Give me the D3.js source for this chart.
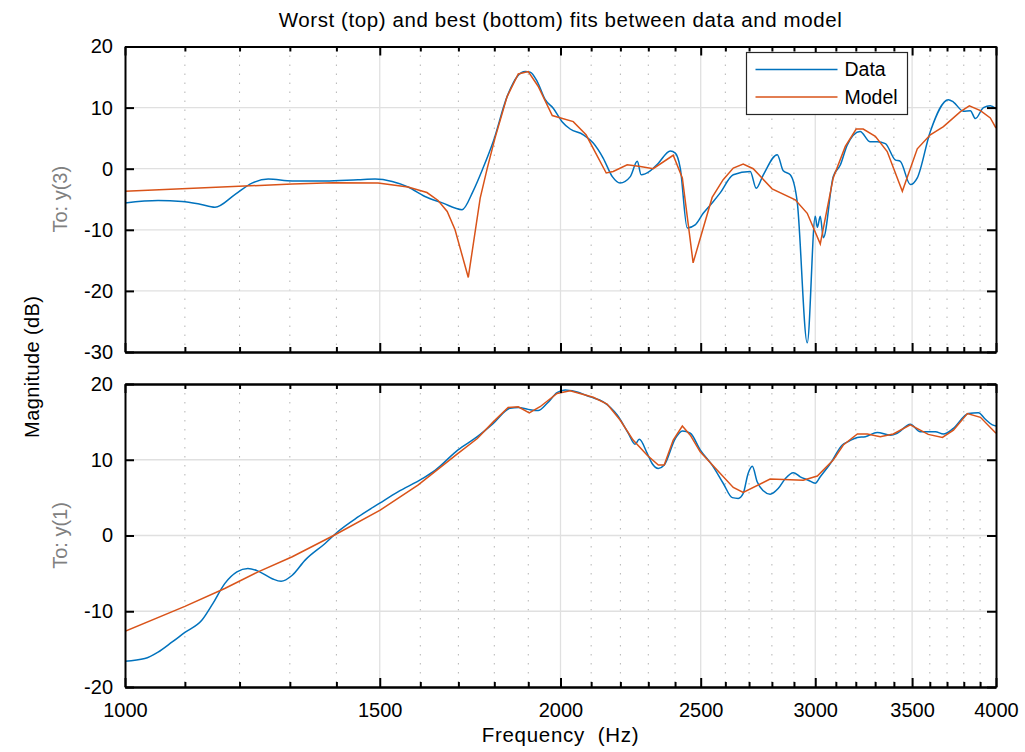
<!DOCTYPE html>
<html>
<head>
<meta charset="utf-8">
<script src="https://cdn.jsdelivr.net/npm/d3@7"></script>
<style>
  body { margin: 0; background: #fff; }
  svg text { font-family: "Liberation Sans", Arial, Helvetica, sans-serif; }
</style>
</head>
<body>
<svg id="chart" width="1025" height="752"></svg>
<script>
// ---- Frequency axis ----
const freqTicks = [1000, 1500, 2000, 2500, 3000, 3500, 4000];
const freqTickLabels = ["1000", "1500", "2000", "2500", "3000", "3500", "4000"];

// ---- Upper panel: output y(3) (worst fit) ----
const worstTicks = [20, 10, 0, -10, -20, -30];
const worstTickLabels = ["20", "10", "0", "-10", "-20", "-30"];
const worstDataFreq = [1000, 1054, 1095, 1127, 1154, 1191, 1224, 1256, 1305, 1375, 1449, 1489, 1530, 1569, 1612, 1657, 1710, 1740, 1768, 1797, 1837, 1867, 1891, 1906, 1927, 1952, 1977, 2005, 2031, 2074, 2107, 2141, 2172, 2199, 2235, 2260, 2274, 2307, 2337, 2382, 2401, 2420, 2447, 2478, 2510, 2550, 2578, 2633, 2705, 2731, 2762, 2824, 2851, 2883, 2915, 2962, 3000, 3010, 3024, 3039, 3087, 3122, 3157, 3222, 3274, 3311, 3354, 3407, 3435, 3490, 3529, 3603, 3708, 3738, 3798, 3840, 3871, 3921, 3964, 4000];
const worstDataMag = [-5.6, -5.2, -5.35, -5.8, -6.3, -4.25, -2.35, -1.7, -2.0, -2.0, -1.8, -1.7, -2.1, -3.0, -4.55, -5.6, -6.7, -3.7, 0.1, 4.45, 11.8, 15.1, 15.9, 15.8, 14.3, 11.3, 9.9, 7.7, 6.5, 5.55, 4.2, 1.7, -1.3, -2.35, -1.3, 1.2, -1.0, -0.35, 0.9, 2.9, 2.55, 0.1, -9.7, -9.2, -7.3, -5.4, -4.0, -1.0, -0.45, -3.2, -1.0, 2.3, -0.35, -1.0, -5.4, -28.5, -7.8, -9.6, -7.8, -11.3, -1.3, 0.6, 3.9, 6.1, 4.4, 4.4, 4.1, 1.45, 1.2, -2.6, -1.5, 6.1, 11.3, 10.9, 9.4, 9.5, 8.2, 10.0, 10.3, 9.8];
const worstModelFreq = [1000, 1305, 1392, 1496, 1569, 1617, 1646, 1670, 1691, 1727, 1760, 1780, 1802, 1837, 1870, 1900, 1930, 1974, 2041, 2083, 2151, 2175, 2224, 2271, 2318, 2393, 2428, 2470, 2546, 2591, 2633, 2675, 2718, 2801, 2906, 2962, 3024, 3087, 3147, 3202, 3238, 3301, 3364, 3446, 3529, 3603, 3679, 3780, 3834, 3902, 3964, 4000];
const worstModelMag = [-3.7, -2.5, -2.3, -2.35, -3.0, -3.9, -5.2, -7.0, -10.0, -17.8, -4.8, 0.1, 5.0, 11.8, 15.5, 15.9, 13.5, 8.7, 7.7, 5.55, -0.7, -0.45, 0.65, 0.35, 0.0, 2.2, -1.5, -15.4, -4.7, -1.8, 0.1, 0.75, 0.0, -3.3, -5.1, -7.3, -12.3, -1.5, 3.65, 6.5, 6.5, 5.3, 2.8, -3.7, 3.25, 5.55, 6.9, 9.35, 10.3, 9.5, 8.3, 6.65];

// ---- Lower panel: output y(1) (best fit) ----
const bestTicks = [20, 10, 0, -10, -20];
const bestTickLabels = ["20", "10", "0", "-10", "-20"];
const bestDataFreq = [1000, 1032, 1054, 1078, 1100, 1130, 1150, 1172, 1195, 1216, 1236, 1264, 1282, 1305, 1332, 1375, 1403, 1449, 1501, 1544, 1605, 1638, 1699, 1752, 1797, 1846, 1870, 1900, 1930, 1958, 1989, 2015, 2047, 2097, 2141, 2189, 2228, 2252, 2267, 2296, 2314, 2337, 2359, 2401, 2428, 2459, 2498, 2550, 2591, 2629, 2654, 2675, 2696, 2714, 2735, 2762, 2792, 2828, 2860, 2897, 2929, 2967, 3000, 3024, 3073, 3132, 3162, 3208, 3249, 3311, 3381, 3418, 3490, 3546, 3632, 3679, 3738, 3828, 3889, 3933, 3977, 4000];
const bestDataMag = [-16.6, -16.25, -15.4, -14.05, -12.8, -11.2, -9.0, -6.35, -4.8, -4.35, -4.7, -5.7, -6.05, -5.25, -3.25, -1.05, 0.5, 2.45, 4.3, 5.75, 7.5, 8.6, 11.3, 13.05, 14.8, 16.8, 16.9, 16.65, 16.5, 17.45, 18.85, 19.2, 19.0, 18.3, 17.65, 15.9, 13.5, 12.05, 12.7, 10.85, 9.5, 8.85, 9.3, 12.8, 13.8, 13.5, 11.3, 9.1, 6.9, 5.0, 4.9, 5.55, 8.2, 9.15, 7.1, 5.9, 5.45, 6.2, 7.5, 8.3, 7.75, 7.3, 6.9, 7.75, 9.5, 11.95, 12.4, 12.95, 13.05, 13.6, 13.25, 13.5, 14.7, 13.7, 13.7, 13.4, 14.15, 16.1, 16.2, 15.35, 14.6, 14.45];
const bestModelFreq = [1000, 1100, 1172, 1236, 1305, 1397, 1501, 1594, 1699, 1752, 1797, 1840, 1870, 1903, 1936, 1989, 2031, 2107, 2154, 2199, 2245, 2296, 2337, 2359, 2393, 2428, 2459, 2498, 2567, 2633, 2675, 2792, 2943, 3010, 3087, 3137, 3208, 3259, 3327, 3397, 3490, 3591, 3673, 3738, 3822, 3902, 4000];
const bestModelMag = [-12.65, -9.35, -7.0, -4.8, -2.8, 0.1, 3.35, 6.65, 10.85, 12.8, 15.0, 16.9, 17.0, 16.2, 17.0, 18.75, 19.1, 18.25, 17.35, 15.25, 12.6, 10.6, 9.3, 9.3, 12.6, 14.45, 13.25, 11.05, 8.6, 6.35, 5.7, 7.45, 7.3, 7.85, 9.95, 11.95, 13.4, 13.4, 13.05, 13.4, 14.6, 13.35, 12.95, 13.9, 16.1, 15.6, 13.5];

const seriesNames = ["Data", "Model"];
const seriesColors = ["#0072BD", "#D95319"];

// ---- Layout ----
const svg = d3.select("#chart");
const plotLeft = 125, plotRight = 996;
const TICK_FONT = 20;
const LEGEND_FONT = 19.5;

const x = d3.scaleLog().domain([1000, 4000]).range([plotLeft, plotRight]);
const minorFreqs = d3.range(1100, 4000, 100).filter(f => !freqTicks.includes(f));

const panels = [
  { id: "worst", top: 46.5, bottom: 352, domain: [-30, 20], ticks: worstTicks, tickLabels: worstTickLabels,
    channel: "To: y(3)", showX: false,
    data: worstDataFreq.map((f, i) => [f, worstDataMag[i]]),
    model: worstModelFreq.map((f, i) => [f, worstModelMag[i]]) },
  { id: "best", top: 384, bottom: 687, domain: [-20, 20], ticks: bestTicks, tickLabels: bestTickLabels,
    channel: "To: y(1)", showX: true,
    data: bestDataFreq.map((f, i) => [f, bestDataMag[i]]),
    model: bestModelFreq.map((f, i) => [f, bestModelMag[i]]) }
];

panels.forEach(p => {
  const y = d3.scaleLinear().domain(p.domain).range([p.bottom, p.top]);
  const g = svg.append("g").attr("class", "panel-" + p.id);

  g.append("defs").append("clipPath").attr("id", "clip-" + p.id)
    .append("rect").attr("x", plotLeft).attr("y", p.top)
    .attr("width", plotRight - plotLeft).attr("height", p.bottom - p.top);

  // minor (dotted) vertical grid
  g.append("g").selectAll("line").data(minorFreqs).join("line")
    .attr("x1", d => x(d)).attr("x2", d => x(d))
    .attr("y1", p.top).attr("y2", p.bottom)
    .attr("stroke", "#b4b4b4").attr("stroke-width", 1)
    .attr("stroke-dasharray", "1.5,7.5");

  // major (solid) grid
  g.append("g").selectAll("line").data(freqTicks.slice(1, -1)).join("line")
    .attr("x1", d => x(d)).attr("x2", d => x(d))
    .attr("y1", p.top).attr("y2", p.bottom)
    .attr("stroke", "#e0e0e0").attr("stroke-width", 1.3);
  g.append("g").selectAll("line").data(p.ticks.slice(1, -1)).join("line")
    .attr("x1", plotLeft).attr("x2", plotRight)
    .attr("y1", d => y(d)).attr("y2", d => y(d))
    .attr("stroke", "#e0e0e0").attr("stroke-width", 1.3);

  // curves
  const dataLine = d3.line().x(d => x(d[0])).y(d => y(d[1])).curve(d3.curveMonotoneX);
  const modelLine = d3.line().x(d => x(d[0])).y(d => y(d[1])).curve(d3.curveLinear);
  const lines = g.append("g").attr("clip-path", "url(#clip-" + p.id + ")");
  lines.append("path").datum(p.data).attr("d", dataLine)
    .attr("fill", "none").attr("stroke", seriesColors[0]).attr("stroke-width", 1.5);
  lines.append("path").datum(p.model).attr("d", modelLine)
    .attr("fill", "none").attr("stroke", seriesColors[1]).attr("stroke-width", 1.5);

  // axes (ticks point inward)
  const styleAxis = sel => {
    sel.attr("font-family", null).attr("font-size", null);
    sel.selectAll(".domain").attr("stroke", "#000").attr("stroke-width", 2);
    sel.selectAll(".tick line").attr("stroke", "#000").attr("stroke-width", 2);
    sel.selectAll(".tick text").attr("fill", "#000").style("font-size", TICK_FONT + "px");
  };
  const bottomAxis = d3.axisBottom(x).tickValues(freqTicks).tickSize(-9).tickSizeOuter(0)
    .tickPadding(16).tickFormat((d, i) => p.showX ? freqTickLabels[i] : "");
  g.append("g").attr("transform", `translate(0,${p.bottom})`).call(bottomAxis).call(styleAxis);
  g.append("g").attr("transform", `translate(0,${p.bottom})`)
    .call(d3.axisBottom(x).tickValues(minorFreqs).tickSize(-5).tickSizeOuter(0).tickFormat(""))
    .call(styleAxis);
  g.append("g").attr("transform", `translate(0,${p.top})`)
    .call(d3.axisTop(x).tickValues(freqTicks).tickSize(-9).tickSizeOuter(0).tickFormat(""))
    .call(styleAxis);
  g.append("g").attr("transform", `translate(0,${p.top})`)
    .call(d3.axisTop(x).tickValues(minorFreqs).tickSize(-5).tickSizeOuter(0).tickFormat(""))
    .call(styleAxis);
  g.append("g").attr("transform", `translate(${plotLeft},0)`)
    .call(d3.axisLeft(y).tickValues(p.ticks).tickSize(-9).tickSizeOuter(0).tickPadding(12)
      .tickFormat((d, i) => p.tickLabels[i]))
    .call(styleAxis);
  g.append("g").attr("transform", `translate(${plotRight},0)`)
    .call(d3.axisRight(y).tickValues(p.ticks).tickSize(-9).tickSizeOuter(0).tickFormat(""))
    .call(styleAxis);

  // channel label
  g.append("text")
    .attr("transform", `translate(67,${(p.top + p.bottom) / 2}) rotate(-90)`)
    .attr("text-anchor", "middle").attr("fill", "#808080")
    .style("font-size", "20px").text(p.channel);
});

// ---- Titles ----
svg.append("text").attr("x", (plotLeft + plotRight) / 2).attr("y", 27)
  .attr("text-anchor", "middle").attr("fill", "#000").style("font-size", "20.5px")
  .style("letter-spacing", "0.6px")
  .text("Worst (top) and best (bottom) fits between data and model");

svg.append("text").attr("x", (plotLeft + plotRight) / 2).attr("y", 742)
  .attr("text-anchor", "middle").attr("fill", "#000").style("font-size", "20.5px")
  .style("letter-spacing", "0.7px").style("white-space", "pre")
  .text("Frequency  (Hz)");

svg.append("text")
  .attr("transform", `translate(39,${(46.5 + 687) / 2}) rotate(-90)`)
  .attr("text-anchor", "middle").attr("fill", "#000").style("font-size", "20px")
  .style("letter-spacing", "0.4px")
  .text("Magnitude (dB)");

// ---- Legend ----
const legend = svg.append("g").attr("transform", "translate(746.5,52.5)");
legend.append("rect").attr("width", 161).attr("height", 62)
  .attr("fill", "#fff").attr("stroke", "#262626").attr("stroke-width", 1.2);
seriesNames.forEach((name, i) => {
  const ly = 17 + i * 27.5;
  legend.append("line").attr("x1", 9).attr("x2", 91).attr("y1", ly).attr("y2", ly)
    .attr("stroke", seriesColors[i]).attr("stroke-width", 1.5);
  legend.append("text").attr("x", 98).attr("y", ly).attr("dy", "0.35em")
    .attr("fill", "#000").style("font-size", LEGEND_FONT + "px").text(name);
});
</script>
</body>
</html>
